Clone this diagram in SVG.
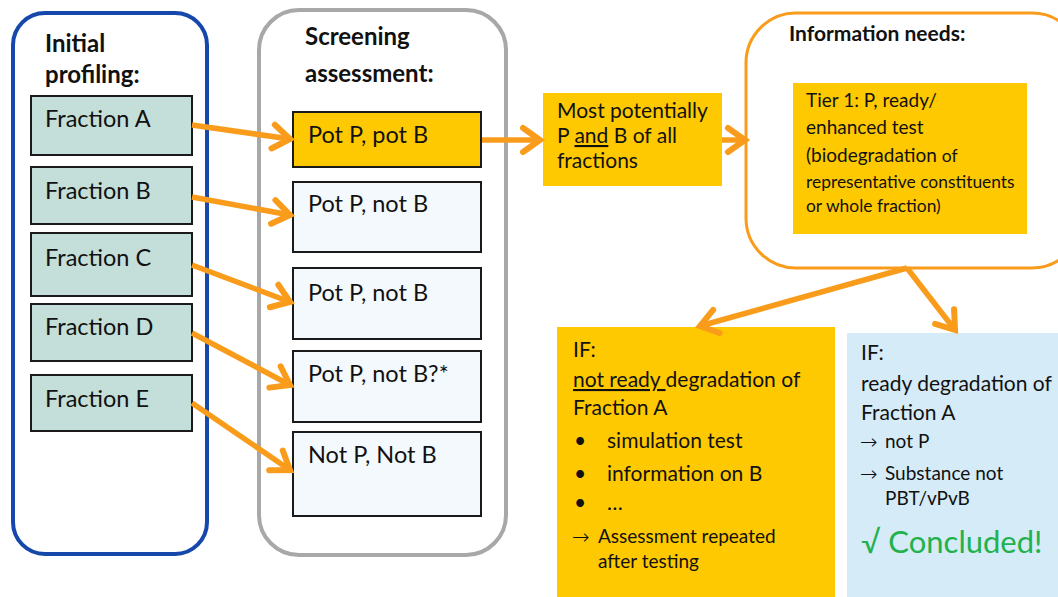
<svg xmlns="http://www.w3.org/2000/svg" width="1058" height="597" viewBox="0 0 1058 597">
  <defs>
    <marker id="chev" markerUnits="userSpaceOnUse" markerWidth="40" markerHeight="40" viewBox="-30 -20 40 40" refX="0" refY="0" orient="auto">
      <path d="M -17 -12 L 0 0 L -17 12" fill="none" stroke="#F99C1C" stroke-width="6" stroke-linecap="round" stroke-linejoin="miter"/>
    </marker>
    <style>
      text { font-family: Lato, "Open Sans", "Liberation Sans", sans-serif; fill: #111; }
      .hd { font-weight: bold; font-size: 24px; }
      .big { font-size: 23.5px; }
      .t20 { font-size: 21px; }
      .t19 { font-size: 19px; }
      .t17 { font-size: 17.4px; }
      .arr { font-size: 19px; }
      .ar { font-family: "DejaVu Sans", sans-serif; font-size: 21px; font-weight: 300; }
      .frac { fill: #C4DFD9; stroke: #1A1A1A; stroke-width: 2; }
      .lite { fill: #F4F9FD; stroke: #1A1A1A; stroke-width: 2; }
      .gold { fill: #FFC901; }
      .conn { fill: none; stroke: #F99C1C; stroke-width: 5.5; marker-end: url(#chev); }
    </style>
  </defs>

  <rect width="1058" height="597" fill="#FFFFFF"/>

  <!-- column: initial profiling -->
  <g id="initial-profiling">
    <rect x="13" y="13" width="194" height="541" rx="32" fill="#FFFFFF" stroke="#1548AA" stroke-width="4"/>
    <text class="hd" x="45" y="52">Initial</text>
    <text class="hd" x="45" y="83">profiling:</text>
  </g>

  <!-- column: screening assessment -->
  <g id="screening-assessment">
    <rect x="259" y="10" width="247" height="545" rx="40" fill="#FFFFFF" stroke="#A8A8A8" stroke-width="4"/>
    <text class="hd" x="305" y="45">Screening</text>
    <text class="hd" x="305" y="82">assessment:</text>
  </g>

  <g id="fraction-a">
    <rect class="frac" x="31" y="96" width="161" height="59"/>
    <text class="big" x="45" y="127">Fraction A</text>
  </g>
  <g id="fraction-b">
    <rect class="frac" x="31" y="167" width="161" height="57"/>
    <text class="big" x="45" y="199">Fraction B</text>
  </g>
  <g id="fraction-c">
    <rect class="frac" x="31" y="233" width="161" height="63"/>
    <text class="big" x="45" y="266">Fraction C</text>
  </g>
  <g id="fraction-d">
    <rect class="frac" x="31" y="304" width="161" height="57"/>
    <text class="big" x="45" y="335">Fraction D</text>
  </g>
  <g id="fraction-e">
    <rect class="frac" x="31" y="375" width="161" height="56"/>
    <text class="big" x="45" y="407">Fraction E</text>
  </g>

  <g id="pot-p-pot-b">
    <rect x="293" y="112" width="188" height="55" fill="#FFC901" stroke="#1A1A1A" stroke-width="2"/>
    <text class="big" x="308" y="143">Pot P, pot B</text>
  </g>
  <g id="pot-p-not-b-1">
    <rect class="lite" x="293" y="182" width="188" height="70"/>
    <text class="big" x="308" y="212">Pot P, not B</text>
  </g>
  <g id="pot-p-not-b-2">
    <rect class="lite" x="293" y="268" width="188" height="71"/>
    <text class="big" x="308" y="301">Pot P, not B</text>
  </g>
  <g id="pot-p-not-b-query">
    <rect class="lite" x="293" y="351" width="188" height="71"/>
    <text class="big" x="308" y="382">Pot P, not B?*</text>
  </g>
  <g id="not-p-not-b">
    <rect class="lite" x="293" y="432" width="188" height="84"/>
    <text class="big" x="308" y="463">Not P, Not B</text>
  </g>

  <g id="most-potentially">
    <rect class="gold" x="543" y="93" width="179" height="93"/>
    <text class="t20" x="557" y="118">Most potentially</text>
    <text class="t20" x="557" y="143">P <tspan text-decoration="underline">and</tspan> B of all</text>
    <text class="t20" x="557" y="168">fractions</text>
  </g>

  <g id="information-needs">
    <rect x="746" y="13" width="336" height="255" rx="50" fill="#FFFFFF" stroke="#F99C1C" stroke-width="3"/>
    <text class="hd" x="789" y="41" style="font-size:21px">Information needs:</text>
  </g>

  <g id="tier-1">
    <rect class="gold" x="793" y="83" width="234" height="151"/>
    <text class="t19" x="806" y="107">Tier 1: P, ready/</text>
    <text class="t19" x="806" y="134">enhanced test</text>
    <text class="t19" x="806" y="162">(biodegradation <tspan class="t17">of</tspan></text>
    <text class="t17" x="806" y="188">representative  constituents</text>
    <text class="t17" x="806" y="212">or whole fraction)</text>
  </g>

  <g id="if-not-ready">
    <rect class="gold" x="557" y="327" width="278" height="270"/>
    <text class="t20" x="573" y="357">IF:</text>
    <text class="t20" x="573" y="387"><tspan text-decoration="underline">not ready </tspan>degradation of</text>
    <text class="t20" x="573" y="415">Fraction A</text>
    <text class="t20" x="574" y="448">•</text>
    <text class="t20" x="607" y="448">simulation test</text>
    <text class="t20" x="574" y="481">•</text>
    <text class="t20" x="607" y="481">information on B</text>
    <text class="t20" x="574" y="510">•</text>
    <text class="t20" x="607" y="510">…</text>
    <text class="ar" x="572" y="544">→</text>
    <text class="arr" x="598" y="543">Assessment repeated</text>
    <text class="arr" x="598" y="568">after testing</text>
  </g>

  <g id="if-ready">
    <rect x="847" y="333" width="215" height="264" fill="#D5EBF7"/>
    <text class="t20" x="861" y="360">IF:</text>
    <text class="t20" x="861" y="391">ready degradation of</text>
    <text class="t20" x="861" y="420">Fraction A</text>
    <text class="ar" x="860" y="449">→</text>
    <text class="arr" x="885" y="448">not P</text>
    <text class="ar" x="860" y="481">→</text>
    <text class="arr" x="885" y="480">Substance not</text>
    <text class="arr" x="885" y="505">PBT/vPvB</text>
    <text x="861" y="553" style="font-size:31px; fill:#22B14C">√ Concluded!</text>
  </g>

  <!-- connectors -->
  <g id="connectors">
    <line class="conn" x1="192" y1="125" x2="290" y2="139"/>
    <line class="conn" x1="192" y1="197" x2="290" y2="215"/>
    <line class="conn" x1="192" y1="265" x2="290" y2="302"/>
    <line class="conn" x1="192" y1="333" x2="290" y2="385"/>
    <line class="conn" x1="192" y1="403" x2="290" y2="470"/>
    <line class="conn" x1="482" y1="140" x2="540" y2="140"/>
    <line class="conn" x1="722" y1="140" x2="745" y2="140"/>
    <line class="conn" x1="907" y1="268" x2="700" y2="326"/>
    <line class="conn" x1="907" y1="268" x2="955" y2="330"/>
  </g>
</svg>
